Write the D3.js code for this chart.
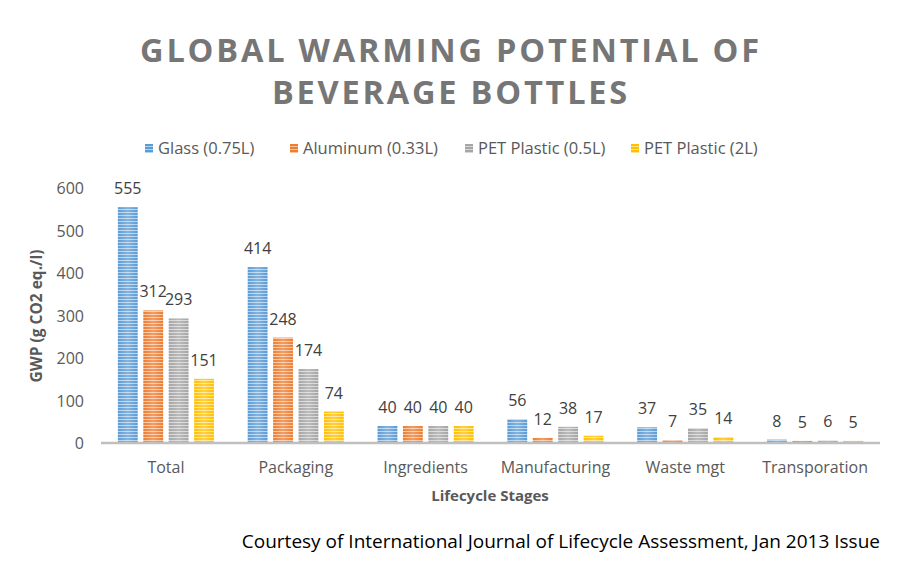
<!DOCTYPE html>
<html>
<head>
<meta charset="utf-8">
<script src="https://cdn.jsdelivr.net/npm/d3@7"></script>
<style>
  html, body { margin: 0; padding: 0; background: #fff; }
  svg { display: block; font-family: "Open Sans", sans-serif; }
</style>
</head>
<body>
<svg id="chart" width="920" height="567"></svg>
<script>
const categories = ["Total", "Packaging", "Ingredients", "Manufacturing", "Waste mgt", "Transporation"];
const seriesNames = ["Glass (0.75L)", "Aluminum (0.33L)", "PET Plastic (0.5L)", "PET Plastic (2L)"];
const glass = [555, 414, 40, 56, 37, 8];
const aluminum = [312, 248, 40, 12, 7, 5];
const petSmall = [293, 174, 40, 38, 35, 6];
const petLarge = [151, 74, 40, 17, 14, 5];
const yTicks = [0, 100, 200, 300, 400, 500, 600];
const colors = ["#5B9BD5", "#ED7D31", "#A5A5A5", "#FFC000"];

const seriesValues = [glass, aluminum, petSmall, petLarge];

const svg = d3.select("#chart");
const defs = svg.append("defs");

colors.forEach((c, i) => {
  const p = defs.append("pattern")
    .attr("id", "pat" + i)
    .attr("patternUnits", "userSpaceOnUse")
    .attr("width", 4).attr("height", 3);
  p.append("rect").attr("width", 4).attr("height", 3).attr("fill", c);
  p.append("rect").attr("y", 2).attr("width", 4).attr("height", 1).attr("fill", "#fff").attr("opacity", 0.55);
});
const grad = defs.append("linearGradient").attr("id", "sheen").attr("x1", 0).attr("x2", 1).attr("y1", 0).attr("y2", 0);
grad.append("stop").attr("offset", "0%").attr("stop-color", "#fff").attr("stop-opacity", 0);
grad.append("stop").attr("offset", "50%").attr("stop-color", "#fff").attr("stop-opacity", 0.25);
grad.append("stop").attr("offset", "100%").attr("stop-color", "#fff").attr("stop-opacity", 0);

// Title
const title = svg.append("text")
  .attr("text-anchor", "middle")
  .attr("fill", "#767676")
  .attr("font-weight", "bold")
  .attr("font-size", 32.5)
  .attr("letter-spacing", 2.8);
title.append("tspan").attr("x", 451).attr("y", 62).text("GLOBAL WARMING POTENTIAL OF");
title.append("tspan").attr("x", 451).attr("y", 104).text("BEVERAGE BOTTLES");

// Scales
const x0 = d3.scaleBand().domain(categories).range([101, 880]).paddingInner(0.26).paddingOuter(0.13);
const x1 = d3.scaleBand().domain(d3.range(seriesNames.length)).range([0, x0.bandwidth()]).paddingInner(0.22);
const y = d3.scaleLinear().domain([0, 600]).range([443, 188]);

// Y axis
const yAxis = d3.axisLeft(y).tickValues(yTicks).tickSize(0).tickPadding(0);
const yg = svg.append("g").attr("transform", "translate(84,0)").call(yAxis);
yg.select(".domain").remove();
yg.selectAll("text").attr("font-size", 16).attr("fill", "#595959").attr("font-family", "Open Sans, sans-serif").attr("dy", "0.35em");

// Bars
const groups = svg.append("g").selectAll("g")
  .data(categories)
  .join("g")
  .attr("transform", d => `translate(${x0(d)},0)`);

groups.each(function(cat, ci) {
  const g = d3.select(this);
  seriesValues.forEach((vals, si) => {
    const v = vals[ci];
    g.append("rect")
      .attr("x", x1(si)).attr("width", x1.bandwidth())
      .attr("y", y(v)).attr("height", y(0) - y(v))
      .attr("fill", `url(#pat${si})`);
    g.append("rect")
      .attr("x", x1(si)).attr("width", x1.bandwidth())
      .attr("y", y(v)).attr("height", y(0) - y(v))
      .attr("fill", "url(#sheen)");
    g.append("text")
      .attr("x", x1(si) + x1.bandwidth() / 2)
      .attr("y", y(v) - 13)
      .attr("text-anchor", "middle")
      .attr("font-size", 16)
      .attr("fill", "#404040")
      .text(v);
  });
});

// X axis
const xAxis = d3.axisBottom(x0).tickSize(0).tickPadding(0);
const xg = svg.append("g").attr("transform", "translate(0,443)").call(xAxis);
xg.select(".domain").attr("stroke", "#BFBFBF").attr("stroke-width", 2.5).attr("d", "M101,0H880");
xg.selectAll("text").attr("font-size", 16).attr("fill", "#595959").attr("font-family", "Open Sans, sans-serif").attr("dy", null).attr("y", 30);

// Axis titles
svg.append("text")
  .attr("transform", "translate(42,316) rotate(-90)")
  .attr("text-anchor", "middle")
  .attr("font-size", 15.5).attr("font-weight", "bold").attr("fill", "#595959")
  .text("GWP (g CO2 eq./l)");
svg.append("text")
  .attr("x", 490).attr("y", 501)
  .attr("text-anchor", "middle")
  .attr("font-size", 15).attr("font-weight", "bold").attr("fill", "#595959")
  .text("Lifecycle Stages");

// Legend
const legendX = [145, 290, 465, 631];
const lg = svg.append("g");
seriesNames.forEach((n, i) => {
  lg.append("rect").attr("x", legendX[i]).attr("y", 144).attr("width", 8).attr("height", 9).attr("fill", `url(#pat${i})`);
  lg.append("text").attr("x", legendX[i] + 13).attr("y", 154)
    .attr("font-size", 16.5).attr("fill", "#595959").text(n);
});

// Footer
svg.append("text")
  .attr("x", 880).attr("y", 548)
  .attr("text-anchor", "end")
  .attr("font-size", 19).attr("fill", "#000")
  .text("Courtesy of International Journal of Lifecycle Assessment, Jan 2013 Issue");
</script>
</body>
</html>
